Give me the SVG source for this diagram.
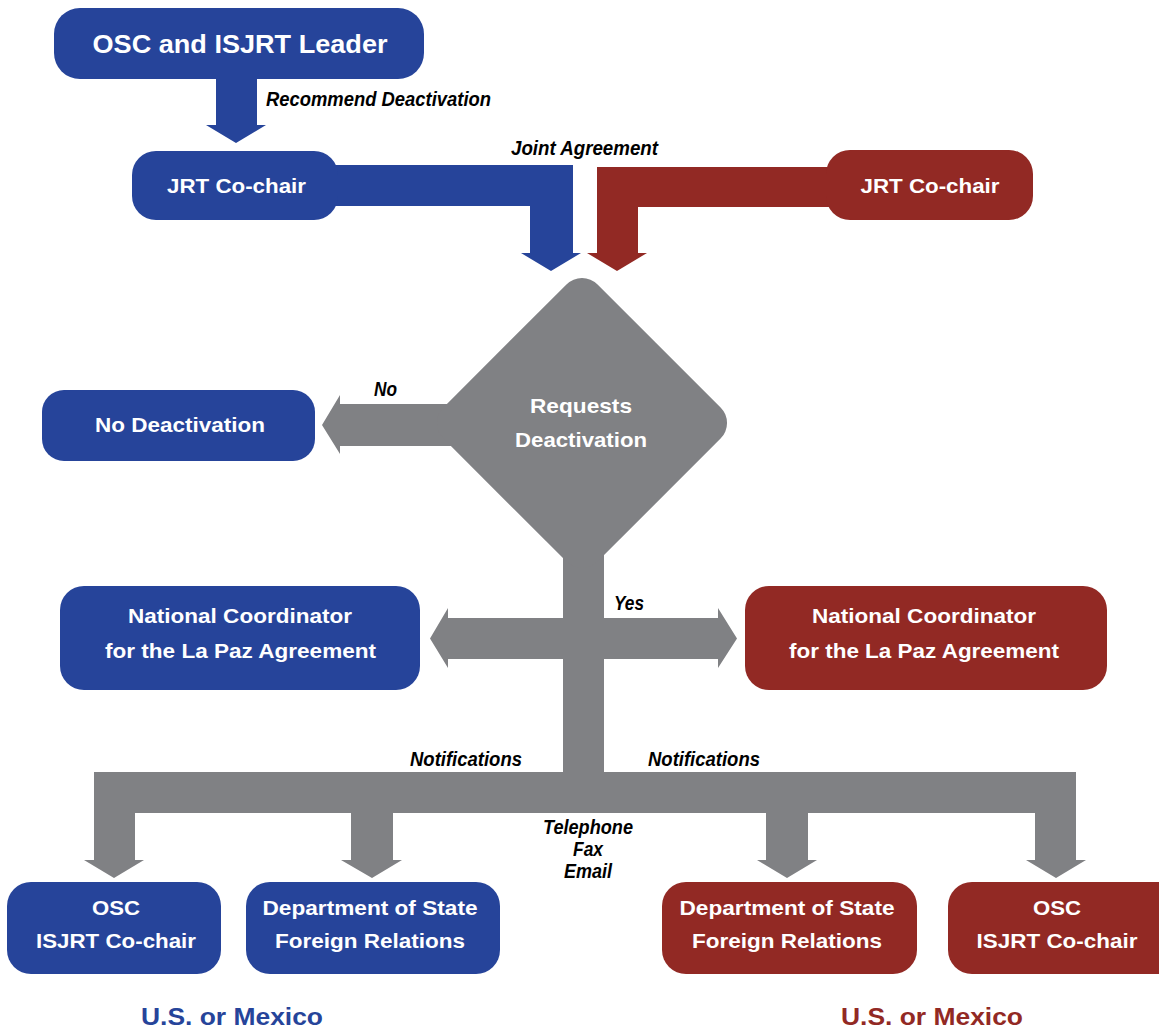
<svg xmlns="http://www.w3.org/2000/svg" width="1159" height="1032" viewBox="0 0 1159 1032">
<style>
.blue{fill:#26449a}
.red{fill:#922924}
.gray{fill:#808184}
.t{font-family:"Liberation Sans",Arial,sans-serif;font-weight:bold;fill:#fff;text-anchor:middle;font-size:21px}
.lbl{font-family:"Liberation Sans",Arial,sans-serif;font-weight:bold;font-style:italic;fill:#000;font-size:20px}
.foot{font-family:"Liberation Sans",Arial,sans-serif;font-weight:bold;text-anchor:middle;font-size:24px}
</style>
<rect width="1159" height="1032" fill="#fff"/>
<g id="connectors">
  <polygon class="blue" points="216,70 257,70 257,125 266,125 236,143 206,125 216,125"/>
  <polygon class="blue" points="320,165 573,165 573,253 581,253 551,271 521,253 530,253 530,206 320,206"/>
  <polygon class="red" points="840,167 597,167 597,253 587,253 617,271 647,253 638,253 638,207 840,207"/>
  <polygon class="gray" points="470,404 340,404 340,395 322,425 340,454 340,446 470,446"/>
  <rect class="gray" x="563" y="520" width="41" height="293"/>
  <polygon class="gray" points="448,618 718,618 718,608 737,638.5 718,668 718,659 448,659 448,668 430,638.5 448,608"/>
  <rect class="gray" x="94" y="772" width="982" height="41"/>
  <polygon class="gray" points="94,800 135,800 135,860 144,860 114,878 84,860 94,860"/>
  <polygon class="gray" points="351,800 393,800 393,860 402,860 372,878 341,860 351,860"/>
  <polygon class="gray" points="766,800 808,800 808,860 817,860 787,878 757,860 766,860"/>
  <polygon class="gray" points="1035,800 1076,800 1076,860 1086,860 1056,878 1026,860 1035,860"/>
  <text class="lbl" x="266" y="106" textLength="225" lengthAdjust="spacingAndGlyphs">Recommend Deactivation</text>
  <text class="lbl" x="511" y="155" textLength="147" lengthAdjust="spacingAndGlyphs">Joint Agreement</text>
  <text class="lbl" x="374" y="396" textLength="23" lengthAdjust="spacingAndGlyphs">No</text>
  <text class="lbl" x="614" y="610" textLength="30" lengthAdjust="spacingAndGlyphs">Yes</text>
  <text class="lbl" x="410" y="766" textLength="112" lengthAdjust="spacingAndGlyphs">Notifications</text>
  <text class="lbl" x="648" y="766" textLength="112" lengthAdjust="spacingAndGlyphs">Notifications</text>
  <text class="lbl" x="543" y="834" textLength="90" lengthAdjust="spacingAndGlyphs">Telephone</text>
  <text class="lbl" x="573" y="856" textLength="30" lengthAdjust="spacingAndGlyphs">Fax</text>
  <text class="lbl" x="564" y="878" textLength="48" lengthAdjust="spacingAndGlyphs">Email</text>
</g>
<g id="osc-leader">
  <rect class="blue" x="54" y="8" width="370" height="71" rx="26"/>
  <text class="t" x="240" y="53" style="font-size:25px" textLength="295" lengthAdjust="spacingAndGlyphs">OSC and ISJRT Leader</text>
</g>
<g id="jrt-us">
  <rect class="blue" x="132" y="151" width="206" height="69" rx="24"/>
  <text class="t" x="236.5" y="193" textLength="139" lengthAdjust="spacingAndGlyphs">JRT Co-chair</text>
</g>
<g id="jrt-mx">
  <rect class="red" x="826" y="150" width="207" height="70" rx="24"/>
  <text class="t" x="930" y="193" textLength="139" lengthAdjust="spacingAndGlyphs">JRT Co-chair</text>
</g>
<g id="decision">
  <rect class="gray" x="-109" y="-109" width="218" height="218" rx="22" transform="translate(582,423) rotate(45)"/>
  <text class="t" x="581" y="413" textLength="102" lengthAdjust="spacingAndGlyphs">Requests</text>
  <text class="t" x="581" y="447" textLength="132" lengthAdjust="spacingAndGlyphs">Deactivation</text>
</g>
<g id="no-deactivation">
  <rect class="blue" x="42" y="390" width="273" height="71" rx="22"/>
  <text class="t" x="180" y="432" textLength="170" lengthAdjust="spacingAndGlyphs">No Deactivation</text>
</g>
<g id="natcoord-us">
  <rect class="blue" x="60" y="586" width="360" height="104" rx="24"/>
  <text class="t" x="240" y="623" textLength="224" lengthAdjust="spacingAndGlyphs">National Coordinator</text>
  <text class="t" x="240.5" y="658" textLength="271" lengthAdjust="spacingAndGlyphs">for the La Paz Agreement</text>
</g>
<g id="natcoord-mx">
  <rect class="red" x="745" y="586" width="362" height="104" rx="24"/>
  <text class="t" x="924" y="623" textLength="224" lengthAdjust="spacingAndGlyphs">National Coordinator</text>
  <text class="t" x="924" y="658" textLength="270" lengthAdjust="spacingAndGlyphs">for the La Paz Agreement</text>
</g>
<g id="osc-us">
  <rect class="blue" x="7" y="882" width="214" height="92" rx="24"/>
  <text class="t" x="116" y="915" textLength="48" lengthAdjust="spacingAndGlyphs">OSC</text>
  <text class="t" x="116" y="948" textLength="160" lengthAdjust="spacingAndGlyphs">ISJRT Co-chair</text>
</g>
<g id="dos-us">
  <rect class="blue" x="246" y="882" width="254" height="92" rx="24"/>
  <text class="t" x="370" y="915" textLength="215" lengthAdjust="spacingAndGlyphs">Department of State</text>
  <text class="t" x="370" y="948" textLength="190" lengthAdjust="spacingAndGlyphs">Foreign Relations</text>
</g>
<g id="dos-mx">
  <rect class="red" x="662" y="882" width="255" height="92" rx="24"/>
  <text class="t" x="787" y="915" textLength="215" lengthAdjust="spacingAndGlyphs">Department of State</text>
  <text class="t" x="787" y="948" textLength="190" lengthAdjust="spacingAndGlyphs">Foreign Relations</text>
</g>
<g id="osc-mx">
  <rect class="red" x="948" y="882" width="235" height="92" rx="24"/>
  <text class="t" x="1057" y="915" textLength="48" lengthAdjust="spacingAndGlyphs">OSC</text>
  <text class="t" x="1057" y="948" textLength="161" lengthAdjust="spacingAndGlyphs">ISJRT Co-chair</text>
</g>
<g id="footer-us">
  <text class="foot" x="232" y="1025" fill="#26449a" textLength="182" lengthAdjust="spacingAndGlyphs">U.S. or Mexico</text>
</g>
<g id="footer-mx">
  <text class="foot" x="932" y="1025" fill="#922924" textLength="182" lengthAdjust="spacingAndGlyphs">U.S. or Mexico</text>
</g>
</svg>
